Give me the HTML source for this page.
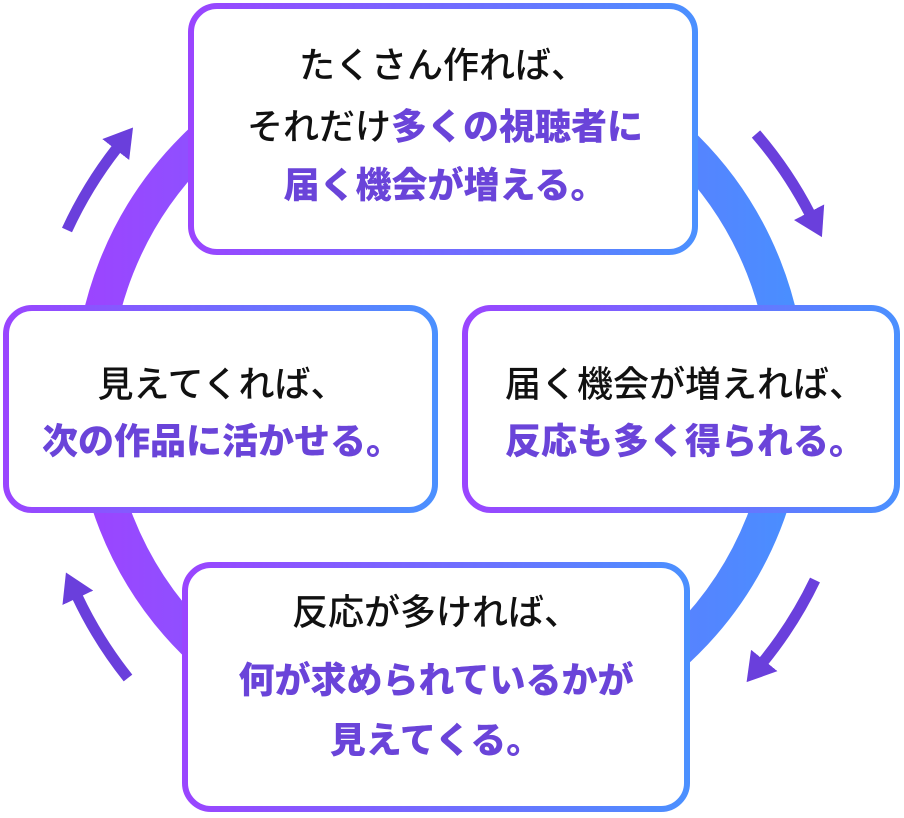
<!DOCTYPE html>
<html><head><meta charset="utf-8"><style>
html,body{margin:0;padding:0;background:#fff;}
svg{display:block;}
text{font-family:"Liberation Sans","Noto Sans CJK JP",sans-serif;font-size:36px;text-anchor:middle;dominant-baseline:central;}
.k{fill:#111;font-weight:500;}
.p{fill:#6a44d9;font-weight:900;}
</style></head><body>
<svg width="904" height="818" viewBox="0 0 904 818" xmlns="http://www.w3.org/2000/svg">
<defs>
<linearGradient id="rg" x1="90" y1="0" x2="790" y2="0" gradientUnits="userSpaceOnUse">
<stop offset="0" stop-color="#9b45ff"/><stop offset="1" stop-color="#4a8eff"/></linearGradient>
<linearGradient id="bg" x1="0" y1="0" x2="1" y2="0">
<stop offset="0" stop-color="#9a45ff"/><stop offset="1" stop-color="#4b90ff"/></linearGradient>
<marker id="ah" markerUnits="userSpaceOnUse" markerWidth="44" markerHeight="44" refX="2" refY="17" orient="auto">
<path d="M0,0 L28,17 L0,34 z" fill="#6a3fdc"/></marker>
</defs>
<circle cx="440" cy="395" r="348" fill="none" stroke="url(#rg)" stroke-width="36"/>
<g fill="none" stroke="#6a3fdc" stroke-width="11" marker-end="url(#ah)">
<path d="M67,230 A413,413 0 0 1 117,148"/>
<path d="M756,134 A413,413 0 0 1 810,214"/>
<path d="M815,580 A413,413 0 0 1 763,662"/>
<path d="M128,678 A413,413 0 0 1 77,596"/>
</g>
<g fill="#fff" stroke="url(#bg)" stroke-width="6">
<rect x="191" y="6" width="504" height="246" rx="26"/>
<rect x="6" y="308" width="429" height="202" rx="26"/>
<rect x="465" y="308" width="432" height="202" rx="26"/>
<rect x="185" y="565" width="502" height="244" rx="26"/>
</g>
<text x="443" y="65" class="k">たくさん作れば、</text>
<text x="445" y="126"><tspan class="k">それだけ</tspan><tspan class="p">多くの視聴者に</tspan></text>
<text x="445" y="185" class="p">届く機会が増える。</text>
<text x="222" y="384" class="k">見えてくれば、</text>
<text x="222" y="441" class="p">次の作品に活かせる。</text>
<text x="685" y="384" class="k">届く機会が増えれば、</text>
<text x="685" y="441" class="p">反応も多く得られる。</text>
<text x="436" y="612" class="k">反応が多ければ、</text>
<text x="436" y="680" class="p">何が求められているかが</text>
<text x="436" y="740" class="p">見えてくる。</text>
</svg>
</body></html>
